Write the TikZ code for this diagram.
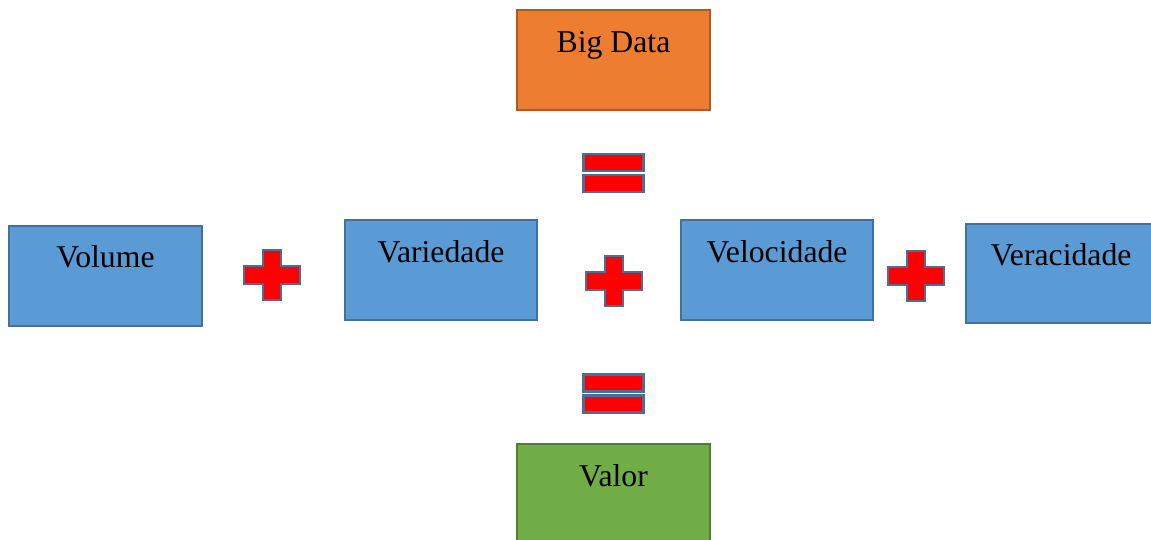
\documentclass[tikz,border=0pt]{standalone}
\usepackage{fontspec}
\setmainfont{Liberation Serif}
\definecolor{boxblue}{HTML}{5B9BD5}
\definecolor{boxblueline}{HTML}{41719C}
\definecolor{boxorange}{HTML}{ED7D31}
\definecolor{boxorangeline}{HTML}{AE5A21}
\definecolor{boxgreen}{HTML}{70AD47}
\definecolor{boxgreenline}{HTML}{507E32}
\definecolor{signline}{HTML}{4A6E9A}
\tikzset{
  bluebox/.style={draw=boxblueline, fill=boxblue, line width=1.8pt},
  orangebox/.style={draw=boxorangeline, fill=boxorange, line width=1.8pt},
  greenbox/.style={draw=boxgreenline, fill=boxgreen, line width=1.8pt},
  signshape/.style={draw=signline, fill=red, line width=1.8pt},
  lbl/.style={anchor=base, inner sep=0pt, font=\fontsize{23.8pt}{28pt}\selectfont},
  pics/plussign/.style={code={
    \path[signshape] (-9,-25) -- (9,-25) -- (9,-9) -- (28,-9) -- (28,9) -- (9,9) -- (9,25) -- (-9,25) -- (-9,9) -- (-28,9) -- (-28,-9) -- (-9,-9) -- cycle;
  }},
  pics/equalsign/.style={code={
    \path[signshape] (-30,-19) rectangle (30,-2);
    \path[signshape] (-30,2) rectangle (30,19);
  }}
}
\begin{document}
\begin{tikzpicture}[x=0.75pt,y=-0.75pt]
\useasboundingbox (0,0) rectangle (1151,539);
\clip (0,0) rectangle (1151,539);
% boxes
\path[orangebox] (517,10) rectangle (710,110);
\node[lbl] (tbd) at (613.5,52) {Big Data};
\path[bluebox] (9,226) rectangle (202,326);
\node[lbl] (tvol) at (105.5,267) {Volume};
\path[bluebox] (345,220) rectangle (537,320);
\node[lbl] (tvar) at (441,262) {Variedade};
\path[bluebox] (681,220) rectangle (873,320);
\node[lbl] (tvel) at (777,262) {Velocidade};
\path[bluebox] (966,224) rectangle (1152,323);
\node[lbl] (tver) at (1061,265) {Veracidade};
\path[greenbox] (517,444) rectangle (710,560);
\node[lbl] (tval) at (613.5,486) {Valor};
% signs
\pic at (613.5,173) {equalsign};
\pic at (613.5,393.5) {equalsign};
\pic at (272,275) {plussign};
\pic at (614,281) {plussign};
\pic at (916,276) {plussign};
\end{tikzpicture}
\end{document}
